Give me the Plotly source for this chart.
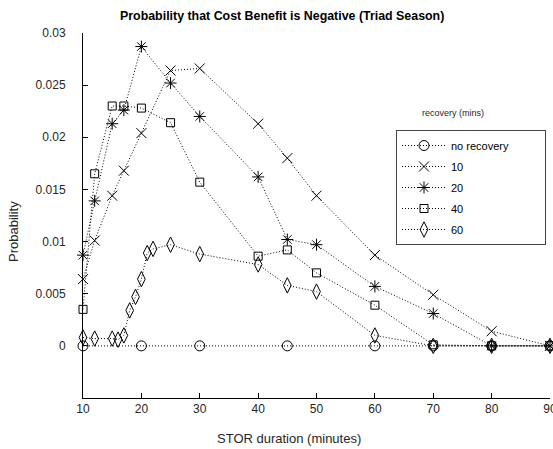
import plotly.graph_objects as go

# Data
x_none = [10, 20, 30, 45, 60, 70, 80, 90]
y_none = [0, 0, 0, 0, 0, 0, 0, 0]

x_10 = [10, 12, 15, 17, 20, 25, 30, 40, 45, 50, 60, 70, 80, 90]
y_10 = [0.0064, 0.0101, 0.0144, 0.0168, 0.0204, 0.0264, 0.0266, 0.0213, 0.0180, 0.0144, 0.0087, 0.0049, 0.0014, 0.0]

x_20 = [10, 12, 15, 17, 20, 25, 30, 40, 45, 50, 60, 70, 80, 90]
y_20 = [0.0087, 0.0139, 0.0213, 0.0226, 0.0287, 0.0252, 0.0220, 0.0162, 0.0102, 0.0097, 0.0057, 0.0031, 0.0, 0.0]

x_40 = [10, 12, 15, 17, 20, 25, 30, 40, 45, 50, 60, 70, 80, 90]
y_40 = [0.0035, 0.0165, 0.0230, 0.0230, 0.0228, 0.0214, 0.0157, 0.0086, 0.0092, 0.0070, 0.0039, 0.0001, 0.0, 0.0]

x_60 = [10, 12, 15, 16, 17, 18, 19, 20, 21, 22, 25, 30, 40, 45, 50, 60, 70, 80, 90]
y_60 = [0.0008, 0.0007, 0.0007, 0.0006, 0.0010, 0.0034, 0.0047, 0.0064, 0.0089, 0.0093,
        0.0097, 0.0088, 0.0078, 0.0058, 0.0052, 0.0010, 0.0, 0.0, 0.0]

series_names = ["no recovery", "10", "20", "40", "60"]
x_ticks = [10, 20, 30, 40, 50, 60, 70, 80, 90]
y_ticks = [0, 0.005, 0.01, 0.015, 0.02, 0.025, 0.03]
y_ticklabels = ["0", "0.005", "0.01", "0.015", "0.02", "0.025", "0.03"]

symbols = ["circle-open", "x-thin-open", "asterisk-open", "square-open", "diamond-tall-open"]
sizes = [10, 10, 10, 8, 11]
xs = [x_none, x_10, x_20, x_40, x_60]
ys = [y_none, y_10, y_20, y_40, y_60]

FONT = "Liberation Sans, Arial, Helvetica, sans-serif"
PAD = "\u00a0" * 10

fig = go.Figure()
for i, (name, xv, yv, sym, sz) in enumerate(zip(series_names, xs, ys, symbols, sizes)):
    label = name + PAD if i == 0 else name
    fig.add_trace(go.Scatter(
        x=xv, y=yv, name=label, mode="lines+markers", legendgroup=f"g{i}",
        line=dict(color="black", width=1, dash="1px,2px"),
        marker=dict(symbol=sym, size=sz, color="black",
                    line=dict(color="black", width=1)),
        cliponaxis=False,
    ))

fig.update_layout(
    width=553, height=449,
    margin=dict(l=83, r=3, t=33, b=51),
    paper_bgcolor="white", plot_bgcolor="white",
    font=dict(family=FONT, size=12, color="#262626"),
    showlegend=True,
    legend=dict(
        x=(396 - 83) / 467, y=(398 - 130) / 365, xanchor="left", yanchor="top",
        bgcolor="white", bordercolor="#444444", borderwidth=1,
        font=dict(size=11, color="black"),
        tracegroupgap=2, itemwidth=44,
    ),
    xaxis=dict(
        range=[10, 90], tickvals=x_ticks, showgrid=False, zeroline=False,
        showline=True, linecolor="black", linewidth=1,
        ticks="inside", ticklen=5, tickcolor="black",
        tickfont=dict(size=12, color="#262626"),
        automargin=False, ticklabeloverflow="allow",
    ),
    yaxis=dict(
        range=[-0.005, 0.03], tickvals=y_ticks, ticktext=y_ticklabels,
        showgrid=False, zeroline=False,
        showline=True, linecolor="black", linewidth=1,
        ticks="inside", ticklen=5, tickcolor="black",
        tickfont=dict(size=12, color="#262626"),
        ticklabelstandoff=14, automargin=False,
    ),
    annotations=[
        dict(text="<b>Probability that Cost Benefit is Negative (Triad Season)</b>",
             xref="paper", yref="paper", x=(282 - 83) / 467, y=1 + 17 / 365,
             xanchor="center", yanchor="middle", showarrow=False,
             font=dict(size=12.4, color="black")),
        dict(text="STOR duration (minutes)",
             xref="paper", yref="paper", x=(289 - 83) / 467, y=-40 / 365,
             xanchor="center", yanchor="middle", showarrow=False,
             font=dict(size=13, color="#262626")),
        dict(text="Probability", textangle=-90,
             xref="paper", yref="paper", x=-70 / 467, y=(398 - 232) / 365,
             xanchor="center", yanchor="middle", showarrow=False,
             font=dict(size=13, color="#262626")),
        dict(text="recovery (mins)",
             xref="paper", yref="paper", x=(453 - 83) / 467, y=(398 - 113) / 365,
             xanchor="center", yanchor="middle", showarrow=False,
             font=dict(size=9, color="#262626")),
    ],
)

fig.write_html("out.html", config={"displayModeBar": False},
               post_script="document.body.style.margin='0';")
